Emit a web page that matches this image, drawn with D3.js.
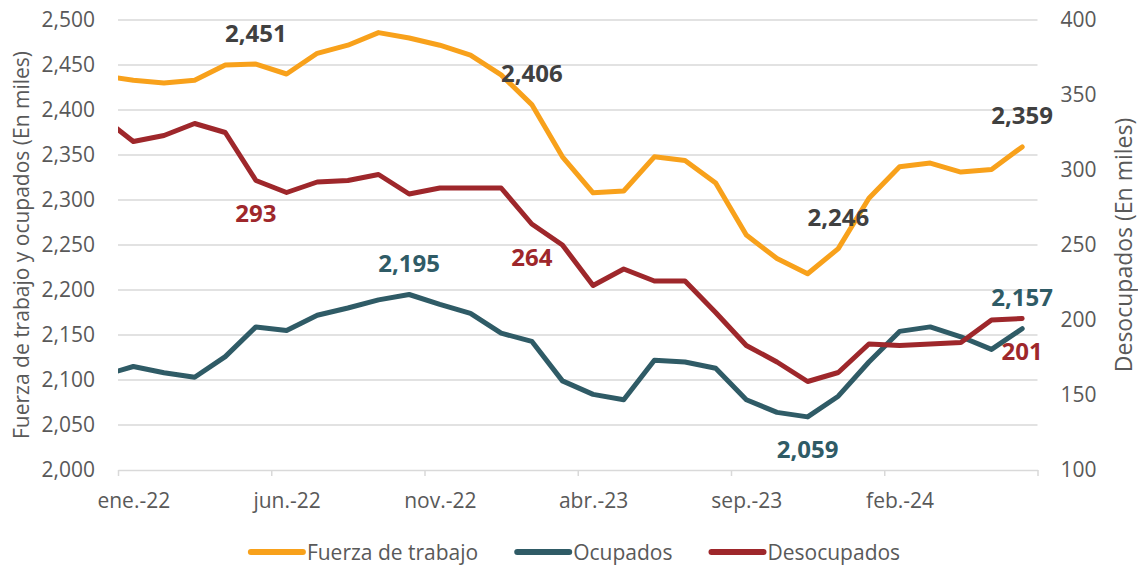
<!DOCTYPE html>
<html><head><meta charset="utf-8">
<script src="https://cdn.jsdelivr.net/npm/d3@7"></script>
<style>
html,body{margin:0;padding:0;background:#fff;}
svg{display:block;font-family:"Open Sans",sans-serif;}
</style></head>
<body><svg id="c" width="1138" height="568"></svg>
<script>
// month categories (first one lies just before the axis start and is clipped)
const months = ["dic.-21",
  "ene.-22","feb.-22","mar.-22","abr.-22","may.-22","jun.-22","jul.-22","ago.-22","sep.-22","oct.-22","nov.-22","dic.-22",
  "ene.-23","feb.-23","mar.-23","abr.-23","may.-23","jun.-23","jul.-23","ago.-23","sep.-23","oct.-23","nov.-23","dic.-23",
  "ene.-24","feb.-24","mar.-24","abr.-24","may.-24","jun.-24"];
const fuerza = [2438,
  2433,2430,2433,2450,2451,2440,2463,2472,2486,2480,2472,2461,
  2439,2406,2348,2308,2310,2348,2344,2319,2261,2235,2218,2246,
  2302,2337,2341,2331,2334,2359];
const ocupados = [2105,
  2115,2108,2103,2126,2159,2155,2172,2180,2189,2195,2184,2174,
  2152,2143,2099,2084,2078,2122,2120,2113,2078,2064,2059,2082,
  2120,2154,2159,2148,2134,2157];
const desocupados = [335,
  319,323,331,325,293,285,292,293,297,284,288,288,
  288,264,250,223,234,226,226,205,183,172,159,165,
  184,183,184,185,200,201];
const leftTicks = [2000,2050,2100,2150,2200,2250,2300,2350,2400,2450,2500];
const rightTicks = [100,150,200,250,300,350,400];
const xLabelMonths = ["ene.-22","jun.-22","nov.-22","abr.-23","sep.-23","feb.-24"];
const seriesNames = ["Fuerza de trabajo","Ocupados","Desocupados"];
// data labels: series, month, placement
const labelSeries = ["Fuerza de trabajo","Fuerza de trabajo","Fuerza de trabajo","Fuerza de trabajo",
  "Ocupados","Ocupados","Ocupados","Desocupados","Desocupados","Desocupados"];
const labelMonths = ["may.-22","feb.-23","dic.-23","jun.-24","oct.-22","nov.-23","jun.-24","may.-22","feb.-23","jun.-24"];
const labelPlace = ["above","above","above","above","above","below","above","below","below","below"];

const W = 1138, H = 568;
const m = {left:118, right:1037.5, top:20, bottom:470};
const colors = {"Fuerza de trabajo":"#F8A11B","Ocupados":"#2F5B66","Desocupados":"#9E272B"};
const labelColors = {"Fuerza de trabajo":"#404040","Ocupados":"#2F5B66","Desocupados":"#9E272B"};
const values = {"Fuerza de trabajo":fuerza,"Ocupados":ocupados,"Desocupados":desocupados};

const svg = d3.select("#c");
// month index: ene.-22 = 0
const idx = mo => months.indexOf(mo) - 1;
const x = d3.scaleLinear().domain([-0.5, 29.5]).range([m.left, m.right]);
const yL = d3.scaleLinear().domain([2000,2500]).range([m.bottom, m.top]);
const yR = d3.scaleLinear().domain([100,400]).range([m.bottom, m.top]);
const yFor = s => s === "Desocupados" ? yR : yL;

svg.append("defs").append("clipPath").attr("id","clip")
  .append("rect").attr("x", m.left).attr("y", 0).attr("width", m.right - m.left).attr("height", H);

// gridlines
svg.append("g").selectAll("line").data(leftTicks.filter(t => t > 2000)).join("line")
  .attr("x1", m.left).attr("x2", m.right)
  .attr("y1", d => yL(d)).attr("y2", d => yL(d))
  .attr("stroke", "#d9d9d9").attr("stroke-width", 1.5);

// left axis labels
const gl = svg.append("g").attr("transform", `translate(${m.left},0)`)
  .call(d3.axisLeft(yL).tickValues(leftTicks).tickFormat(d3.format(",")).tickSize(0).tickPadding(23));
gl.select(".domain").remove();
gl.selectAll("text").attr("font-size", 21).attr("fill", "#595959").attr("font-family", "Open Sans");

// right axis labels
const gr = svg.append("g").attr("transform", `translate(${m.right},0)`)
  .call(d3.axisRight(yR).tickValues(rightTicks).tickSize(0).tickPadding(23));
gr.select(".domain").remove();
gr.selectAll("text").attr("font-size", 21).attr("fill", "#595959").attr("font-family", "Open Sans");

// x axis: tick marks at category boundaries
const gx = svg.append("g").attr("transform", `translate(0,${m.bottom})`)
  .call(d3.axisBottom(x).tickValues(d3.range(-0.5, 30, 5)).tickFormat("").tickSize(6).tickSizeOuter(0));
gx.select(".domain").attr("stroke", "#d9d9d9").attr("stroke-width", 1.5);
gx.selectAll(".tick line").attr("stroke", "#d9d9d9").attr("stroke-width", 1.5);
const gx2 = svg.append("g").attr("transform", `translate(0,${m.bottom})`)
  .call(d3.axisBottom(x).tickValues(xLabelMonths.map(idx)).tickFormat(i => months[i + 1]).tickSize(0).tickPadding(23));
gx2.select(".domain").remove();
gx2.selectAll("text").attr("font-size", 21).attr("fill", "#595959").attr("font-family", "Open Sans");

// axis titles
svg.append("text").attr("transform", `translate(21,${(m.top + m.bottom) / 2}) rotate(-90)`)
  .attr("text-anchor", "middle").attr("dominant-baseline", "central")
  .attr("font-size", 21).attr("fill", "#595959").text("Fuerza de trabajo y ocupados (En miles)");
svg.append("text").attr("transform", `translate(1123,${(m.top + m.bottom) / 2}) rotate(-90)`)
  .attr("text-anchor", "middle").attr("dominant-baseline", "central")
  .attr("font-size", 23).attr("fill", "#595959").text("Desocupados (En miles)");

// lines
const gLines = svg.append("g").attr("clip-path", "url(#clip)");
seriesNames.forEach(s => {
  const y = yFor(s);
  const line = d3.line().x((d, i) => x(i - 1)).y(d => y(d));
  gLines.append("path").datum(values[s])
    .attr("d", line).attr("fill", "none")
    .attr("stroke", colors[s]).attr("stroke-width", 5)
    .attr("stroke-linejoin", "round").attr("stroke-linecap", "round");
});

// data labels
const fmt = d3.format(",");
labelSeries.forEach((s, k) => {
  const i = months.indexOf(labelMonths[k]);
  const v = values[s][i];
  const yy = yFor(s)(v) + (labelPlace[k] === "above" ? -32 : 32);
  svg.append("text").attr("x", x(i - 1)).attr("y", yy)
    .attr("text-anchor", "middle").attr("dominant-baseline", "central")
    .attr("font-size", 24).attr("font-weight", "bold")
    .attr("fill", labelColors[s]).text(fmt(v));
});

// legend
const lg = svg.append("g");
let cx = 0;
seriesNames.forEach(s => {
  const g = lg.append("g").attr("transform", `translate(${cx},0)`);
  g.append("line").attr("x1", 3).attr("x2", 55).attr("y1", 0).attr("y2", 0)
    .attr("stroke", colors[s]).attr("stroke-width", 6).attr("stroke-linecap", "round");
  const t = g.append("text").attr("x", 59).attr("y", 0).attr("dominant-baseline", "central")
    .attr("font-size", 21).attr("fill", "#595959").text(s);
  cx += 59 + t.node().getComputedTextLength() + 36;
});
const total = cx - 36;
lg.attr("transform", `translate(${574 - total / 2},552)`);
</script></body></html>
